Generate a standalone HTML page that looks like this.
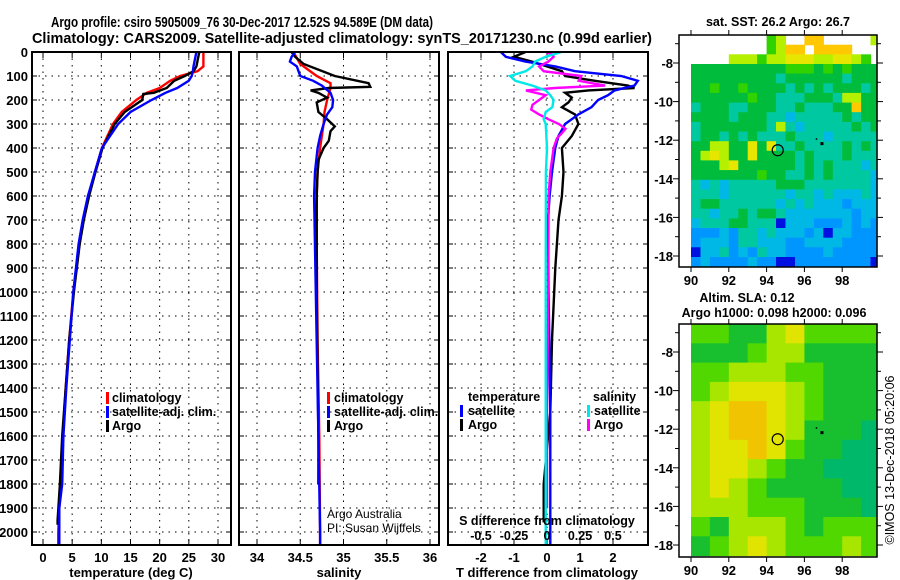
<!DOCTYPE html>
<html><head><meta charset="utf-8"><style>
html,body{margin:0;padding:0;background:#fff;}
svg{display:block;font-family:"Liberation Sans",sans-serif;}
.b{font-weight:bold;}
</style></head><body>
<svg id="s" width="900" height="580" viewBox="0 0 900 580" xmlns="http://www.w3.org/2000/svg">
<text x="51" y="27" font-size="15" class="b" textLength="382" lengthAdjust="spacingAndGlyphs">Argo profile: csiro 5905009_76 30-Dec-2017 12.52S 94.589E (DM data)</text>
<text x="32" y="43" font-size="15" class="b" textLength="620" lengthAdjust="spacingAndGlyphs">Climatology: CARS2009. Satellite-adjusted climatology: synTS_20171230.nc (0.99d earlier)</text>
<text x="778" y="26" font-size="12.5" class="b" text-anchor="middle">sat. SST: 26.2 Argo: 26.7</text>
<text x="747" y="302" font-size="12.5" class="b" text-anchor="middle">Altim. SLA: 0.12</text>
<text x="774" y="317" font-size="12.5" class="b" text-anchor="middle">Argo h1000: 0.098 h2000: 0.096</text>
<text transform="translate(894,460) rotate(-90)" font-size="12.5" text-anchor="middle">©IMOS 13-Dec-2018 05:20:06</text>
<g id="g"></g>
</svg>
<script>
// ---------- data ----------
const depthTicks=[0,100,200,300,400,500,600,700,800,900,1000,1100,1200,1300,1400,1500,1600,1700,1800,1900,2000];
const tTicks=[0,5,10,15,20,25,30];
const sTicks=[34,34.5,35,35.5,36];
const sTickLabels=["34","34.5","35","35.5","36"];
const dTTicks=[-2,-1,0,1,2];
const dSTicks=[-0.5,-0.25,0,0.25,0.5];
const dSTickLabels=["-0.5","-0.25","0","0.25","0.5"];

const tClimD=[0,60,80,100,120,150,170,200,250,300,400,500,600,700,800,1000,1200,1400,1600,1800,2000,2050];
const tClim=[27.5,27.5,26.5,23.5,21.8,20,17.8,16,13.5,12,10.1,8.9,7.8,6.9,6.2,5.2,4.5,3.9,3.4,3.0,2.6,2.6];
const tSatD=[0,60,80,100,120,150,170,200,250,300,400,500,600,700,800,1000,1200,1400,1600,1800,1900,2050];
const tSat=[26.3,25.8,25.7,25.5,25,23,21,18.6,15,12.9,10.1,8.9,7.7,6.8,6.1,5.2,4.6,4.0,3.5,3.3,2.8,2.8];
const tArgoD=[0,60,80,100,120,150,170,175,200,250,300,400,500,600,700,800,1000,1200,1400,1600,1800,1950,1970];
const tArgo=[26.8,26.3,25.8,24.3,22.5,21.2,19,17.2,17,14,12.3,10.2,9.0,7.9,7.0,6.3,5.3,4.5,3.9,3.3,2.9,2.5,2.5];

const sClimD=[0,50,100,130,150,200,250,300,400,500,600,800,1200,1600,2000,2050];
const sClim=[34.42,34.5,34.69,34.85,34.85,34.81,34.78,34.77,34.73,34.7,34.69,34.69,34.7,34.72,34.73,34.73];
const sSatD=[0,20,40,60,80,100,120,140,170,200,230,260,300,350,400,500,600,1000,1600,2000,2050];
const sSat=[34.44,34.4,34.38,34.46,34.48,34.5,34.65,34.75,34.85,34.88,34.87,34.81,34.77,34.73,34.7,34.67,34.66,34.68,34.71,34.73,34.73];
const sArgoD=[0,20,50,100,130,145,150,160,170,190,210,250,280,310,330,370,400,450,500,600,1000,1600,1800];
const sArgo=[34.4,34.44,34.54,34.9,35.29,35.31,34.83,34.62,34.71,34.81,34.69,34.71,34.81,34.9,34.85,34.83,34.77,34.71,34.7,34.69,34.69,34.71,34.71];

const dTArgoD=[0,20,40,80,100,120,140,150,160,170,190,210,230,260,300,350,400,500,600,700,900,1200,1500,1800,1960];
const dTArgo=[-0.65,-1.0,-0.45,0.45,0.55,1.45,2.45,2.65,1.25,0.55,0.75,0.65,0.45,0.85,0.95,0.75,0.45,0.5,0.45,0.35,0.25,0.15,0.1,-0.1,-0.1];
const dTSatD=[0,20,40,60,80,100,120,140,160,180,200,230,260,280,300,350,400,500,600,700,1000,1500,2050];
const dTSat=[-1.4,-1.25,-0.65,0.25,0.85,2.25,2.75,2.65,2.05,1.85,1.55,1.35,0.95,0.75,0.55,0.35,0.25,0.15,0.08,0.03,0.05,0.1,0.1];
const dSArgoD=[0,10,20,40,60,80,100,120,140,150,160,180,200,220,240,260,280,300,320,340,360,400,500,600,1000,1500,1900];
const dSArgo=[-0.01,0.04,0.05,0.01,-0.06,-0.025,0.26,0.24,0.44,0.06,-0.16,-0.01,-0.06,-0.11,-0.12,-0.06,0.01,0.09,0.14,0.11,0.075,0.05,0.025,0.012,0.01,0.0,0.0];
const dSSatD=[0,20,40,60,80,100,120,140,160,180,200,230,250,280,300,400,500,1000,1500,2050];
const dSSat=[0.11,-0.01,-0.09,-0.11,-0.16,-0.28,-0.24,-0.11,-0.01,0.025,0.05,0.04,-0.01,-0.025,-0.01,0.0,-0.008,-0.01,-0.01,-0.01];

// SST map: rows lat -6.5 (top) to -18.5, 0.5 deg; cols lon 90..100, 0.5 deg ('.' = no data)
const sstRows=[
"........56..88.....6",
"........5688.8888...",
"....666566777667765.",
"44444444445554545444",
"44444444434444443444",
"44544544443434344434",
"44444454433344436644",
"34443344433433344844",
"44443444332333334344",
"34444444363233333434",
"34434343334333233333",
"44664474733433334343",
"46764474444343334333",
"44467444444343433323",
"44444445443343433332",
"32323333344433333332",
"33323333332332322232",
"34433333323232221222",
"33233434432222222122",
"23334433302221112121",
"11121332322212022111",
"12221332221122221111",
"02231213221111211111",
"12111121100111111110"];
const sstPalette=["#0010e0","#0096ff","#00b8e6","#00c8a0","#00bc3c","#30d200","#b4f000","#e6e600","#ffc800"];
// SLA map: rows lat -6.5 to -18.5, 1 deg; cols lon 90..99
const slaRows=[
"2211342222",
"1112331111",
"2233322111",
"2344432111",
"3455432111",
"3455431110",
"3445421100",
"3443211000",
"3432111100",
"3332221110",
"2133321222",
"1234322232"];
const slaPalette=["#00b86a","#18c030","#50d800","#a8e600","#e0e400","#f0c400"];
const argoLon=94.589, argoLat=-12.52;

// ---------- drawing ----------
const NS="http://www.w3.org/2000/svg";
const G=document.getElementById('g');
function mk(tag,attrs,parent){const e=document.createElementNS(NS,tag);for(const k in attrs)e.setAttribute(k,attrs[k]);(parent||G).appendChild(e);return e;}
const Y=d=>52+d*0.24;
const TOP=52,BOT=545;
const panels={
 t:{x0:32,x1:231,fx:v=>43+v*5.833},
 s:{x0:239,x1:439,fx:v=>257+(v-34)*86.5},
 d:{x0:448,x1:648,fx:v=>547+v*33},
};
const fS=v=>547+v*132;

function frame(p,name){
  const r=mk('rect',{x:p.x0,y:TOP,width:p.x1-p.x0,height:BOT-TOP,fill:'none',stroke:'#000','stroke-width':2});
  
  
}
function hgrid(p){
  depthTicks.forEach(d=>{
    const l=mk('line',{x1:p.x0,x2:p.x1,y1:Y(d),y2:Y(d),stroke:'#000','stroke-width':1,'stroke-dasharray':'1.5 5'});
    
    
    mk('line',{x1:p.x0,x2:p.x0+5,y1:Y(d),y2:Y(d),stroke:'#000'});
    mk('line',{x1:p.x1-5,x2:p.x1,y1:Y(d),y2:Y(d),stroke:'#000'});
  });
}
function vgrid(p,ticks,labels,name){
  ticks.forEach((v,i)=>{
    const x=p.fx(v);
    const l=mk('line',{x1:x,x2:x,y1:TOP,y2:BOT,stroke:'#000','stroke-width':1,'stroke-dasharray':'1.5 5'});
    
    
    mk('line',{x1:x,x2:x,y1:BOT-6,y2:BOT,stroke:'#000'});
    mk('line',{x1:x,x2:x,y1:TOP,y2:TOP+6,stroke:'#000'});
    const t=mk('text',{x:x,y:562,'font-size':13,'font-weight':'bold','text-anchor':'middle'});
    t.textContent=labels?labels[i]:String(v);
    
    
  });
}
function line(D,V,f,color,name){
  const pts=D.map((d,i)=>f(V[i]).toFixed(1)+','+Y(d).toFixed(1)).join(' ');
  const l=mk('polyline',{points:pts,fill:'none',stroke:color,'stroke-width':2.4,'stroke-linejoin':'miter'});
  
  
}
function txt(x,y,s,size,name,extra){
  const t=mk('text',Object.assign({x:x,y:y,'font-size':size},extra||{}));
  t.textContent=s;
  
  
  return t;
}
function legendMark(x,y,color,name){
  const r=mk('rect',{x:x,y:y-10,width:3,height:12,fill:color});
  
  
}

// depth labels
depthTicks.forEach(d=>{
  txt(28,Y(d)+5,String(d),13,'depth-tick-label',{'font-weight':'bold','text-anchor':'end'});
});

// panel 1
const P1=panels.t;
hgrid(P1); vgrid(P1,tTicks,null,'temperature');
line(tClimD,tClim,P1.fx,'#ff0000','temperature-climatology-line');
line(tArgoD,tArgo,P1.fx,'#000000','temperature-argo-line');
line(tSatD,tSat,P1.fx,'#0000ff','temperature-satellite-line');
frame(P1,'temperature-panel');
txt(131,577,'temperature (deg C)',13,'temperature-axis-title',{'font-weight':'bold','text-anchor':'middle'});
legendMark(106,402,'#ff0000','legend-climatology-mark');
txt(112,402,'climatology',12.5,'legend-climatology',{'font-weight':'bold'});
legendMark(106,416,'#0000ff','legend-satellite-mark');
txt(112,416,'satellite-adj. clim.',12.5,'legend-satellite-adj',{'font-weight':'bold'});
legendMark(106,430,'#000','legend-argo-mark');
txt(112,430,'Argo',12.5,'legend-argo',{'font-weight':'bold'});

// panel 2
const P2=panels.s;
hgrid(P2); vgrid(P2,sTicks,sTickLabels,'salinity');
line(sClimD,sClim,P2.fx,'#ff0000','salinity-climatology-line');
line(sArgoD,sArgo,P2.fx,'#000000','salinity-argo-line');
line(sSatD,sSat,P2.fx,'#0000ff','salinity-satellite-line');
frame(P2,'salinity-panel');
txt(339,577,'salinity',13,'salinity-axis-title',{'font-weight':'bold','text-anchor':'middle'});
legendMark(327,402,'#ff0000','legend2-climatology-mark');
txt(334,402,'climatology',12.5,'legend2-climatology',{'font-weight':'bold'});
legendMark(327,416,'#0000ff','legend2-satellite-mark');
txt(334,416,'satellite-adj. clim.',12.5,'legend2-satellite-adj',{'font-weight':'bold'});
legendMark(327,430,'#000','legend2-argo-mark');
txt(334,430,'Argo',12.5,'legend2-argo',{'font-weight':'bold'});
txt(327,518,'Argo Australia',12,'credit-argo-australia');
txt(327,532,'PI: Susan Wijffels',12,'credit-pi');

// panel 3
const P3=panels.d;
hgrid(P3); vgrid(P3,dTTicks,null,'t-difference');
line(dTArgoD,dTArgo,P3.fx,'#000000','t-diff-argo-line');
line(dTSatD,dTSat,P3.fx,'#0000ff','t-diff-satellite-line');
line(dSArgoD,dSArgo,fS,'#ff00ff','s-diff-argo-line');
line(dSSatD,dSSat,fS,'#00e8e8','s-diff-satellite-line');
frame(P3,'difference-panel');
txt(547,577,'T difference from climatology',13,'t-difference-axis-title',{'font-weight':'bold','text-anchor':'middle'});
txt(547,525,'S difference from climatology',12.5,'s-difference-axis-title',{'font-weight':'bold','text-anchor':'middle'});
dSTicks.forEach((v,i)=>{txt(fS(v),540,dSTickLabels[i],12.5,'s-difference-tick-label',{'font-weight':'bold','text-anchor':'middle'});});
txt(468,401,'temperature',12.5,'legend3-temperature-header',{'font-weight':'bold'});
legendMark(460,415,'#0000ff','legend3-t-satellite-mark');
txt(468,415,'satellite',12.5,'legend3-t-satellite',{'font-weight':'bold'});
legendMark(460,429,'#000','legend3-t-argo-mark');
txt(468,429,'Argo',12.5,'legend3-t-argo',{'font-weight':'bold'});
txt(593,401,'salinity',12.5,'legend3-salinity-header',{'font-weight':'bold'});
legendMark(587,415,'#00e8e8','legend3-s-satellite-mark');
txt(594,415,'satellite',12.5,'legend3-s-satellite',{'font-weight':'bold'});
legendMark(587,429,'#ff00ff','legend3-s-argo-mark');
txt(594,429,'Argo',12.5,'legend3-s-argo',{'font-weight':'bold'});

// maps
function drawMap(y0,y1,rows,palette,cell,ncol,name){
  const x0=679,x1=877;
  const fx=lon=>691+(lon-90)*18.9;
  const latTop=-8+28/19.3;
  const fy=lat=>y0+28+(-8-lat)*19.3;
  const g=mk('g',{});
  
  
  rows.forEach((row,ri)=>{
    for(let ci=0;ci<ncol;ci++){
      const ch=row[ci];
      if(ch==='.'||ch===undefined)continue;
      const lat=latTop-ri*cell, lon=90+ci*cell;
      const xa=fx(lon), ya=fy(lat);
      const xb=Math.min(fx(lon+cell),x1), yb=Math.min(fy(lat-cell),y1);
      const r=mk('rect',{x:xa.toFixed(1),y:ya.toFixed(1),width:(xb-xa+0.6).toFixed(1),height:(yb-ya+0.6).toFixed(1),fill:palette[+ch]},g);
      
      
    }
  });
  const fr=mk('rect',{x:x0,y:y0,width:x1-x0,height:y1-y0,fill:'none',stroke:'#000','stroke-width':1.5});
  
  
  [90,92,94,96,98].forEach(l=>{
    mk('line',{x1:fx(l),x2:fx(l),y1:y1,y2:y1+5,stroke:'#000'});
    mk('line',{x1:fx(l),x2:fx(l),y1:y0-5,y2:y0,stroke:'#000'});
    txt(fx(l),y1+18,String(l),13,'longitude-tick-label',{'font-weight':'bold','text-anchor':'middle'});
  });
  [-7,-9,-11,-13,-15,-17].forEach(l=>{
    mk('line',{x1:x0-4,x2:x0,y1:fy(l),y2:fy(l),stroke:'#000'});
    mk('line',{x1:x1,x2:x1+4,y1:fy(l),y2:fy(l),stroke:'#000'});
  });
  [-8,-10,-12,-14,-16,-18].forEach(l=>{
    mk('line',{x1:x0-6,x2:x0,y1:fy(l),y2:fy(l),stroke:'#000'});
    mk('line',{x1:x1,x2:x1+6,y1:fy(l),y2:fy(l),stroke:'#000'});
    txt(x0-6,fy(l)+5,String(l),13,'latitude-tick-label',{'font-weight':'bold','text-anchor':'end'});
  });
  const c=mk('circle',{cx:fx(argoLon),cy:fy(argoLat),r:5.5,fill:'none',stroke:'#000','stroke-width':1.2});
  
  
  mk('rect',{x:fx(96.85),y:fy(-12.1),width:3,height:3,fill:'#000'});
  mk('rect',{x:fx(96.6),y:fy(-11.9),width:1.5,height:1.5,fill:'#000'});
}
drawMap(35,267,sstRows,sstPalette,0.5,20,'sst-map');
drawMap(324,557,slaRows,slaPalette,1,10,'sla-map');
</script>
</body></html>
